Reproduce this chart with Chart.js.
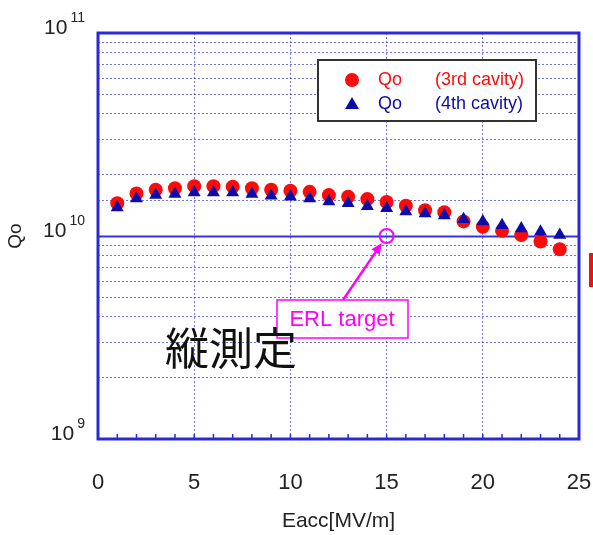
<!DOCTYPE html>
<html lang="ja">
<head>
    <meta charset="UTF-8">
    <title>Qo vs Eacc</title>
    <script src="https://cdn.jsdelivr.net/npm/chart.js"></script>
    <style>
        body {
            margin: 0;
            padding: 0;
            background-color: #ffffff;
        }

        .chart-box {
            width: 593px;
            height: 535px;
        }
    </style>
</head>
<body>

    <div class="chart-box">
        <canvas id="qoChart" width="593" height="535"></canvas>
    </div>

    <script>
        // Eacc [MV/m]
        var eacc = [1, 2, 3, 4, 5, 6, 7, 8, 9, 10, 11, 12, 13, 14, 15, 16, 17, 18, 19, 20, 21, 22, 23, 24];

        // Qo of the 3rd cavity (red circles)
        var qo3rd = [1.45e10, 1.62e10, 1.69e10, 1.72e10, 1.76e10, 1.76e10, 1.75e10, 1.72e10, 1.69e10, 1.67e10,
                     1.65e10, 1.59e10, 1.56e10, 1.52e10, 1.47e10, 1.41e10, 1.34e10, 1.31e10, 1.18e10, 1.11e10,
                     1.06e10, 1.01e10, 9.4e9, 8.6e9];

        // Qo of the 4th cavity (blue triangles)
        var qo4th = [1.38e10, 1.53e10, 1.59e10, 1.61e10, 1.64e10, 1.64e10, 1.64e10, 1.61e10, 1.58e10, 1.56e10,
                     1.53e10, 1.48e10, 1.45e10, 1.40e10, 1.37e10, 1.32e10, 1.29e10, 1.26e10, 1.21e10, 1.18e10,
                     1.13e10, 1.09e10, 1.05e10, 1.01e10];

        // ERL target point
        var targetEacc = [15];
        var targetQo = [1e10];

        var xTicks = [0, 5, 10, 15, 20, 25];
        var yDecades = [1e9, 1e10, 1e11];

        var seriesLabels = ['(3rd cavity)', '(4th cavity)'];

        var redColor = '#ff0a0a';
        var blueColor = '#0c0caa';
        var frameColor = '#2a2ad4';
        var gridColor = 'rgba(70, 70, 220, 0.75)';
        var magenta = '#ff00ff';

        function toPoints(xs, ys) {
            return xs.map(function (x, i) { return { x: x, y: ys[i] }; });
        }

        // frame, solid 10^10 line, minor ticks, y labels, legend and notes
        var decorPlugin = {
            id: 'decor',
            beforeDatasetsDraw: function (chart) {
                var ctx = chart.ctx;
                var a = chart.chartArea;
                var y = chart.scales.y;
                var p = Math.round(y.getPixelForValue(1e10)) + 0.5;
                ctx.save();
                ctx.strokeStyle = '#3333d8';
                ctx.lineWidth = 2;
                ctx.beginPath();
                ctx.moveTo(a.left, p);
                ctx.lineTo(a.right, p);
                ctx.stroke();
                ctx.restore();
            },
            afterDraw: function (chart) {
                var ctx = chart.ctx;
                var a = chart.chartArea;
                var x = chart.scales.x;
                var y = chart.scales.y;
                ctx.save();

                // plot frame
                ctx.strokeStyle = frameColor;
                ctx.lineWidth = 3;
                ctx.strokeRect(a.left, a.top, a.right - a.left, a.bottom - a.top);

                // minor x ticks pointing up
                ctx.lineWidth = 1.5;
                ctx.beginPath();
                for (var i = 1; i < 25; i++) {
                    var px = x.getPixelForValue(i);
                    ctx.moveTo(px, a.bottom);
                    ctx.lineTo(px, a.bottom - 5);
                }
                ctx.stroke();

                // y labels as 10 with superscript exponent
                ctx.fillStyle = '#222222';
                ctx.textBaseline = 'middle';
                ctx.textAlign = 'left';
                yDecades.forEach(function (v) {
                    var py = y.getPixelForValue(v);
                    var exp = String(Math.round(Math.log10(v)));
                    ctx.font = '21px "Liberation Sans", Arial, sans-serif';
                    var wBase = ctx.measureText('10').width;
                    ctx.font = '14px "Liberation Sans", Arial, sans-serif';
                    var wExp = ctx.measureText(exp).width;
                    var start = 85 - (wBase + 3 + wExp);
                    ctx.font = '21px "Liberation Sans", Arial, sans-serif';
                    ctx.fillText('10', start, py - 5);
                    ctx.font = '14px "Liberation Sans", Arial, sans-serif';
                    ctx.fillText(exp, start + wBase + 3, py - 15);
                });

                // legend box
                ctx.fillStyle = '#ffffff';
                ctx.fillRect(318, 60, 218, 61);
                ctx.strokeStyle = '#333333';
                ctx.lineWidth = 2;
                ctx.strokeRect(318, 60, 218, 61);

                var rows = [
                    { color: redColor, style: 'circle', cy: 80, text: seriesLabels[0] },
                    { color: blueColor, style: 'triangle', cy: 104, text: seriesLabels[1] }
                ];
                rows.forEach(function (r) {
                    ctx.fillStyle = r.color;
                    ctx.beginPath();
                    if (r.style === 'circle') {
                        ctx.arc(352, r.cy, 7, 0, Math.PI * 2);
                    } else {
                        ctx.moveTo(352, r.cy - 7);
                        ctx.lineTo(359, r.cy + 5);
                        ctx.lineTo(345, r.cy + 5);
                        ctx.closePath();
                    }
                    ctx.fill();
                    ctx.font = '18px "Liberation Sans", Arial, sans-serif';
                    ctx.textBaseline = 'middle';
                    ctx.fillText('Qo', 378, r.cy);
                    ctx.fillText(r.text, 435, r.cy);
                });

                // ERL target arrow and box
                var tx = x.getPixelForValue(targetEacc[0]);
                var ty = y.getPixelForValue(targetQo[0]);
                var sx = 343, sy = 300;
                var dx = tx - sx, dy = ty - sy;
                var len = Math.sqrt(dx * dx + dy * dy);
                var ux = dx / len, uy = dy / len;
                var ex = tx - ux * 8.5, ey = ty - uy * 8.5;
                ctx.strokeStyle = magenta;
                ctx.fillStyle = magenta;
                ctx.lineWidth = 2.5;
                ctx.beginPath();
                ctx.moveTo(sx, sy);
                ctx.lineTo(ex - ux * 8, ey - uy * 8);
                ctx.stroke();
                ctx.beginPath();
                ctx.moveTo(ex, ey);
                ctx.lineTo(ex - ux * 11 - uy * 5, ey - uy * 11 + ux * 5);
                ctx.lineTo(ex - ux * 11 + uy * 5, ey - uy * 11 - ux * 5);
                ctx.closePath();
                ctx.fill();

                ctx.fillStyle = '#ffffff';
                ctx.fillRect(277, 300, 131, 38);
                ctx.lineWidth = 1.5;
                ctx.strokeRect(277, 300, 131, 38);
                ctx.fillStyle = magenta;
                ctx.font = '22px "Liberation Sans", Arial, sans-serif';
                ctx.textAlign = 'center';
                ctx.fillText('ERL target', 342, 320);

                // 縦測定 note
                ctx.fillStyle = '#111111';
                ctx.font = '44px "Noto Sans CJK JP", sans-serif';
                ctx.fillText('縦測定', 231, 348);

                // red mark cut at the right edge
                ctx.fillStyle = '#ee1111';
                ctx.fillRect(589, 253, 4, 34);

                ctx.restore();
            }
        };

        var ctx = document.getElementById('qoChart').getContext('2d');

        var qoChart = new Chart(ctx, {
            type: 'scatter',
            data: {
                datasets: [{
                    label: 'Qo (4th cavity)',
                    data: toPoints(eacc, qo4th),
                    pointStyle: 'triangle',
                    pointRadius: 7.5,
                    backgroundColor: blueColor,
                    borderColor: blueColor,
                    borderWidth: 0
                }, {
                    label: 'Qo (3rd cavity)',
                    data: toPoints(eacc, qo3rd),
                    pointStyle: 'circle',
                    pointRadius: 7,
                    backgroundColor: redColor,
                    borderColor: redColor,
                    borderWidth: 0
                }, {
                    label: 'ERL target',
                    data: toPoints(targetEacc, targetQo),
                    pointStyle: 'circle',
                    pointRadius: 7,
                    backgroundColor: 'rgba(0,0,0,0)',
                    borderColor: magenta,
                    borderWidth: 2
                }]
            },
            options: {
                responsive: false,
                animation: false,
                layout: {
                    padding: { top: 33, right: 14, left: 0, bottom: 0 }
                },
                plugins: {
                    legend: { display: false },
                    tooltip: { enabled: false }
                },
                scales: {
                    x: {
                        type: 'linear',
                        min: 0,
                        max: 25,
                        afterBuildTicks: function (scale) {
                            scale.ticks = xTicks.map(function (v) { return { value: v }; });
                        },
                        afterFit: function (scale) {
                            scale.height = 96;
                            // tick padding would otherwise be added to the side paddings
                            scale.paddingLeft = 0;
                            scale.paddingRight = 0;
                        },
                        ticks: {
                            autoSkip: false,
                            maxRotation: 0,
                            padding: 31,
                            color: '#222222',
                            font: { family: '"Liberation Sans", Arial, sans-serif', size: 22 }
                        },
                        grid: {
                            drawTicks: false,
                            lineWidth: 1,
                            color: function (c) {
                                var v = c.tick ? c.tick.value : 0;
                                return (v === 0 || v === 25) ? 'rgba(0,0,0,0)' : gridColor;
                            }
                        },
                        border: { display: false, dash: [2, 2] },
                        title: {
                            display: true,
                            text: 'Eacc[MV/m]',
                            color: '#222222',
                            padding: { top: 0, bottom: 1 },
                            font: { family: '"Liberation Sans", Arial, sans-serif', size: 21 }
                        }
                    },
                    y: {
                        type: 'logarithmic',
                        min: 1e9,
                        max: 1e11,
                        afterFit: function (scale) { scale.width = 98; },
                        ticks: { display: false, autoSkip: false },
                        grid: {
                            drawTicks: false,
                            lineWidth: 1,
                            color: function (c) {
                                var v = c.tick ? c.tick.value : 0;
                                return yDecades.indexOf(v) >= 0 ? 'rgba(0,0,0,0)' : gridColor;
                            }
                        },
                        border: { display: false, dash: [2, 2] },
                        title: {
                            display: true,
                            text: 'Qo',
                            color: '#222222',
                            padding: { top: 4, bottom: 0 },
                            font: { family: '"Liberation Sans", Arial, sans-serif', size: 19 }
                        }
                    }
                }
            },
            plugins: [decorPlugin]
        });
    </script>
</body>
</html>
